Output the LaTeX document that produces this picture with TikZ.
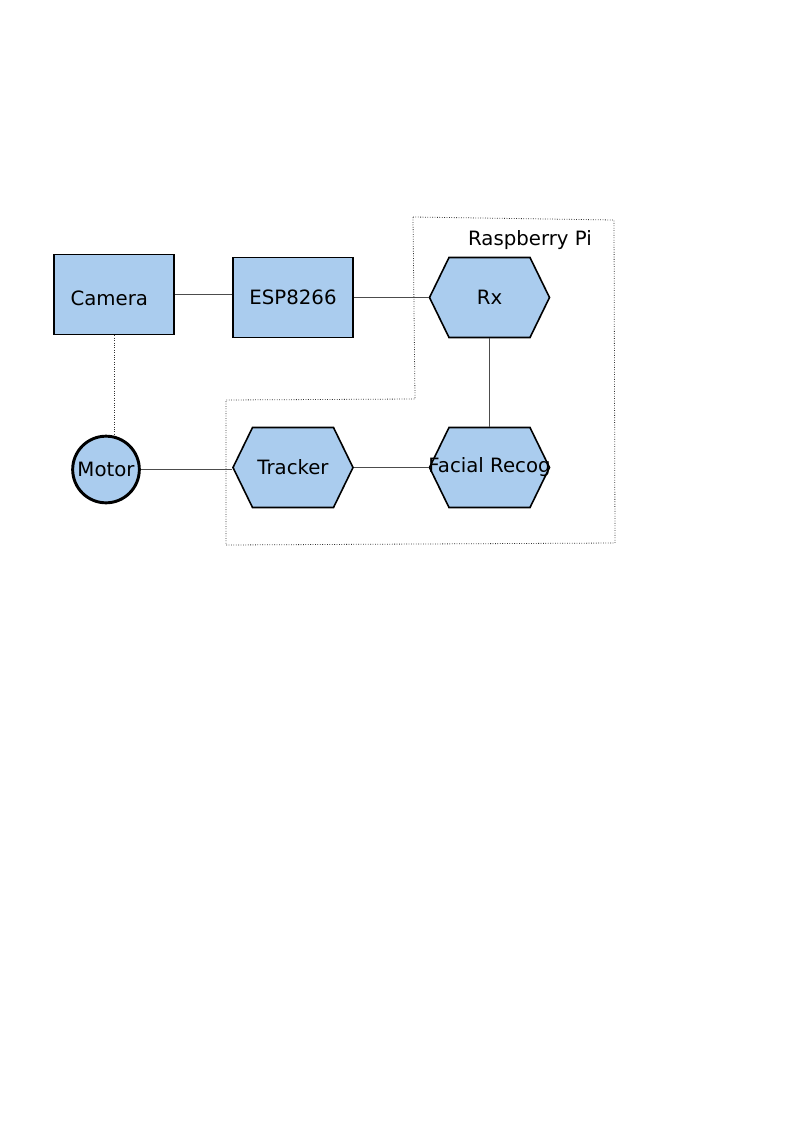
\documentclass[tikz,border=0pt]{standalone}
\usepackage{fontspec}
\setmainfont{DejaVu Sans}
\usetikzlibrary{shapes,positioning,calc}

\definecolor{boxblue}{HTML}{AACCEE}

\begin{document}
\begin{tikzpicture}[
    x=0.75pt, y=-0.75pt,
    font=\fontsize{14.8pt}{18pt}\selectfont,
    block/.style = {rectangle, draw, line width=1.2pt, fill=boxblue, minimum width=90pt, minimum height=60pt, inner sep=0pt},
    hexa/.style = {signal, signal to=east and west, signal pointer angle=128, draw, line width=1.2pt, fill=boxblue, minimum width=90pt, minimum height=60pt, inner sep=0pt},
    motorc/.style = {circle, draw, line width=2.2pt, fill=boxblue, minimum size=50pt, inner sep=0pt},
    wire/.style = {draw=black!70, line width=0.75pt},
    group/.style = {draw=black!80, line width=0.6pt, dash pattern=on 0.6pt off 1.2pt}
]
    \useasboundingbox (0,0) rectangle (794,1123);

    % Raspberry Pi outline
    \draw[group] (413,217) -- (614,220) -- (615,543) -- (226,545) -- (226,400) -- (415,399) -- cycle;
    \node (rpi) at (530,240) {Raspberry Pi};

    % Blocks
    \node[block] (camera) at (114,294.5) {\raisebox{-2.5pt}[10.8pt][0pt]{Camera}\kern7pt};
    \node[block] (esp) at (293,297.5) {ESP8266};
    \node[hexa] (rx) at (489.5,297.5) {Rx};
    \node[hexa] (tracker) at (293,467.5) {Tracker};
    \node[hexa] (facial) at (489.5,467.5) {\makebox[0pt]{Facial Recog}};
    \node[motorc] (motor) at (106,469.5) {Motor};

    % Wires
    \draw[wire] (camera.east) -- (camera.east -| esp.west);
    \draw[wire] (esp.east) -- (rx.west);
    \draw[wire] (rx.south) -- (facial.north);
    \draw[wire] (tracker.east) -- (facial.west);
    \draw[wire] (motor.east) -- (motor.east -| tracker.west);
    \draw[group] (camera.south) -- (camera.south |- motor.north);

\end{tikzpicture}
\end{document}
